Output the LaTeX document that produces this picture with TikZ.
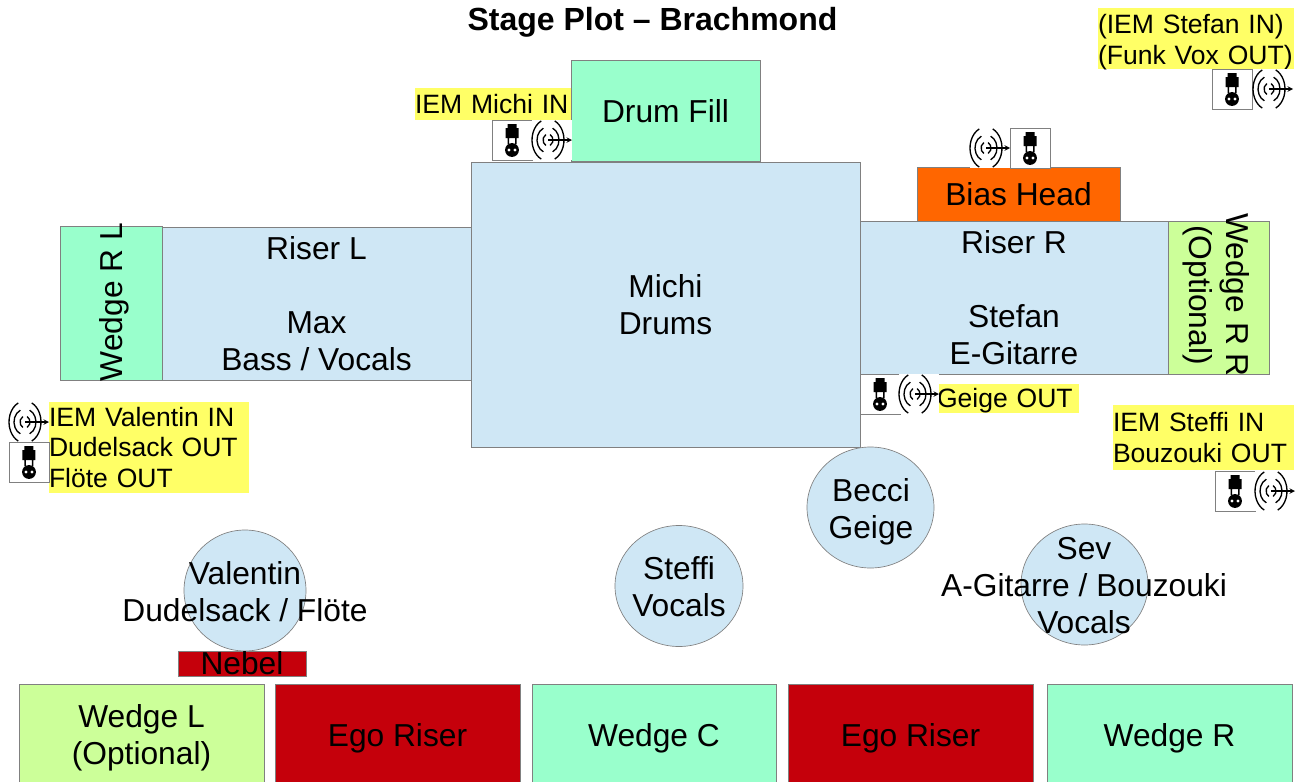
\documentclass[tikz,border=0pt]{standalone}
\usepackage{fontspec}
\setmainfont{Liberation Sans}
\usetikzlibrary{shapes.geometric}
\definecolor{colorMint}{HTML}{99FFCC}
\definecolor{colorLime}{HTML}{CCFF99}
\definecolor{colorRiser}{HTML}{CFE7F5}
\definecolor{colorEgo}{HTML}{C5000B}
\definecolor{colorBias}{HTML}{FF6600}
\definecolor{colorTag}{HTML}{FFFF66}
\definecolor{colorEdge}{HTML}{808080}
\tikzset{
  plate/.style 2 args={draw=colorEdge, line width=0.5pt, rectangle, inner sep=0pt, align=center, font=\fontsize{23.8}{27.7}\selectfont, minimum width=#1*0.75pt, minimum height=#2*0.75pt},
  person/.style 2 args={draw=colorEdge, line width=0.5pt, ellipse, fill=colorRiser, inner sep=0pt, minimum width=#1*0.75pt, minimum height=#2*0.75pt},
  blurb/.style={inner sep=0pt, align=center, font=\fontsize{23.8}{27.7}\selectfont},
  tagbox/.style 2 args={fill=colorTag, inner sep=0pt, align=left, font=\fontsize{19.9}{23.2}\selectfont, text width=#1*0.75pt, minimum height=#2*0.75pt},
  plugbox/.pic={
    \draw[colorEdge, fill=white, line width=0.5pt] (0,0) rectangle (40,40);
    \fill[black] (15.5,4) -- (24.5,4) -- (24.5,8) -- (26.5,8) -- (26.5,18) -- (24.5,18) -- (24.5,24) -- (23,24) -- (23,18) -- (17,18) -- (17,24) -- (15.5,24) -- (15.5,18) -- (13.5,18) -- (13.5,8) -- (15.5,8) -- cycle;
    \fill[black] (20,30) circle[radius=5.2pt];
    \fill[white] (17,30) circle[radius=1.2pt] (23,30) circle[radius=1.2pt];
  },
  radiopic/.pic={
    \fill[white] (0,0) rectangle (40,40);
    \foreach \rx/\ry in {5/6, 11/13, 16/21} {
      \draw[black, line width=1pt] ([shift={(115:\rx*0.75pt and \ry*0.75pt)}]16,20) arc[start angle=115, end angle=245, x radius=\rx*0.75pt, y radius=\ry*0.75pt];
      \draw[black, line width=1pt] ([shift={(-65:\rx*0.75pt and \ry*0.75pt)}]16,20) arc[start angle=-65, end angle=65, x radius=\rx*0.75pt, y radius=\ry*0.75pt];
    }
    \draw[-stealth, black, line width=0.8pt] (16,20) -- (40,20);
  },
}

\begin{document}
\begin{tikzpicture}[x=0.75pt, y=-0.75pt]
\useasboundingbox (0.5,0) rectangle (1304.5,782);
\node[font=\bfseries\fontsize{24}{28}\selectfont, inner sep=0pt] (title) at (653,22) {Stage Plot – Brachmond};
\node[plate={189}{101}, fill=colorMint] (drumfill) at (666,111) {Drum Fill};
\node[plate={389}{285}, fill=colorRiser] (drums) at (666,305) {Michi\\Drums};
\node[plate={309}{153}, fill=colorRiser] (riserl) at (317,304) {Riser L\\[27.7pt]Max\\Bass / Vocals};
\node[plate={102}{154}, fill=colorMint] (wedgerl) at (111.5,303) {};
\node[blurb, rotate=90] (wedgerltext) at (115,302) {Wedge R L};
\node[plate={308}{153}, fill=colorRiser] (riserr) at (1014.5,297.5) {Riser R\\[27.7pt]Stefan\\E-Gitarre};
\node[plate={101}{153}, fill=colorLime] (wedgerr) at (1219,297.5) {};
\node[blurb, rotate=-90] (wedgerrtext) at (1216.5,295) {Wedge R R\\(Optional)};
\node[plate={203}{54}, fill=colorBias] (bias) at (1019,194.5) {Bias Head};
\node[person={122}{121}] (valentin) at (245.5,590.5) {};
\node[blurb] (valentintext) at (245.5,591.5) {Valentin\\Dudelsack / Flöte};
\node[person={128}{121}] (steffi) at (679.5,586) {};
\node[blurb] (steffitext) at (679.5,587) {Steffi\\Vocals};
\node[person={127}{121}] (becci) at (871,507.5) {};
\node[blurb] (beccitext) at (871.5,511.5) {Becci\\Geige};
\node[person={127}{121}] (sev) at (1085,584.5) {};
\node[blurb] (sevtext) at (1084.5,586) {Sev\\A-Gitarre / Bouzouki\\Vocals};
\node[plate={128}{25}, fill=colorEgo] (nebel) at (242.5,663.5) {Nebel};
\node[plate={245}{108}, fill=colorLime] (wedgel) at (142,738) {Wedge L\\(Optional)};
\node[plate={245}{108}, fill=colorEgo] (egol) at (398,738) {Ego Riser};
\node[plate={244}{108}, fill=colorMint] (wedgec) at (654.5,738) {Wedge C};
\node[plate={245}{108}, fill=colorEgo] (egor) at (911,738) {Ego Riser};
\node[plate={245}{108}, fill=colorMint] (wedger) at (1170,738) {Wedge R};
\node[tagbox={156}{32}] (tagmichi) at (493.5,104) {IEM Michi IN};
\node[tagbox={142}{29}] (taggeige) at (1008.5,398.5) {};
\node[tagbox={142}{29}, fill=none] (taggeigetext) at (1008.5,401) {Geige OUT};
\node[tagbox={200}{91}] (tagvalentin) at (149.5,447.5) {IEM Valentin IN\\Dudelsack OUT\\Flöte OUT};
\node[tagbox={181}{65}] (tagsteffi) at (1204,437.5) {IEM Steffi IN\\Bouzouki OUT};
\node[tagbox={196}{61}] (tagstefan) at (1196.5,38.5) {};
\node[tagbox={196}{61}, fill=none] (tagstefantext) at (1196.5,42) {(IEM Stefan IN)\\(Funk Vox OUT)};
\pic (plugmichi) at (492.5,120) {plugbox};
\pic (radiomichi) at (532.5,120) {radiopic};
\pic (pluggeige) at (860.5,374) {plugbox};
\pic (radiogeige) at (899.5,374) {radiopic};
\pic (radiovalentin) at (9.5,402) {radiopic};
\pic (plugvalentin) at (9.5,442) {plugbox};
\pic (plugstefan) at (1212.5,69) {plugbox};
\pic (radiostefan) at (1253.5,69) {radiopic};
\pic (radiobias) at (970.5,128) {radiopic};
\pic (plugbias) at (1010.5,128) {plugbox};
\pic (plugsteffi) at (1215.5,471) {plugbox};
\pic (radiosteffi) at (1255.5,471) {radiopic};
\end{tikzpicture}
\end{document}
